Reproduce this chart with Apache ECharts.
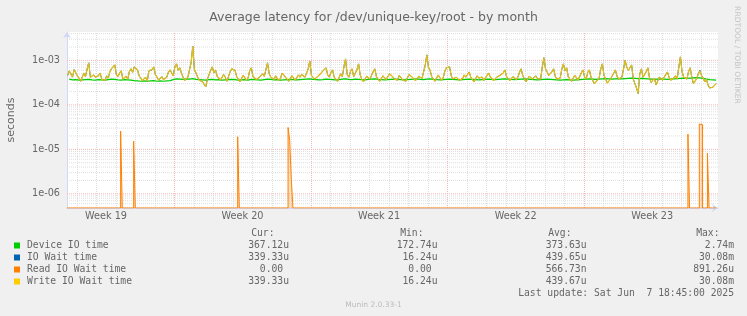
<!DOCTYPE html>
<html><head><meta charset="utf-8">
<script src="https://cdn.jsdelivr.net/npm/echarts@6/dist/echarts.min.js"></script>
<style>html,body{margin:0;padding:0;background:#f0f0f0}#c{width:747px;height:316px}</style>
</head><body><div id="c"></div>
<script>
// ---- data ----
const HOUR = 3600000, DAY = 24 * HOUR;
const startTime = Date.UTC(2025, 4, 5, 12, 0, 0);
const endTime = startTime + 801 * HOUR;
const lastUpdate = Date.UTC(2025, 5, 7, 18, 45, 0);

const seriesNames = ['Device IO time', 'IO Wait time', 'Read IO Wait time', 'Write IO Wait time'];
const seriesColors = ['#00cc00', '#0066b3', '#ff8000', '#ffcc00'];

// device IO time, microseconds, 4-hour samples ending at last update
const deviceIoUs = [
380,365,370,360,365,370,375,365,360,370,
365,360,370,380,375,365,360,370,365,360,
350,345,340,345,340,345,350,340,345,340,
345,350,370,385,380,375,385,380,390,375,
370,365,360,370,375,365,370,360,365,370,
375,370,360,365,370,360,375,370,365,360,
370,380,375,365,370,360,365,370,375,370,
365,370,375,380,385,375,370,365,370,380,
375,370,365,370,380,385,375,370,380,375,
370,365,375,380,385,375,370,365,370,375,
380,375,370,365,370,375,380,385,375,370,
380,385,375,370,365,370,375,380,375,370,
365,370,375,380,375,370,365,370,375,380,
375,370,375,380,385,380,375,370,375,380,
385,380,375,370,365,370,375,380,375,370,
365,360,365,370,365,360,365,370,375,380,
385,380,375,380,385,390,385,380,385,390,
385,390,395,400,395,390,395,390,385,380,
375,380,385,380,375,380,385,390,395,400,
395,400,405,410,405,395,380,370,365,360];

// IO wait time, microseconds, 2-hour samples ending at last update
const ioWaitUs = [
460,580,500,420,620,580,450,400,340,360,520,430,640,880,420,390,470,420,380,450,
520,380,360,350,450,400,560,650,700,790,480,430,520,580,380,420,440,380,560,650,
540,715,680,610,450,400,350,360,420,340,580,610,620,715,480,420,360,390,430,370,
390,420,540,610,640,450,720,835,600,680,520,420,350,380,420,460,900,2100,620,520,
420,360,340,330,300,255,380,420,600,715,520,610,440,400,360,380,480,420,340,360,
560,645,620,600,430,380,330,350,460,410,360,400,580,680,440,420,370,360,420,380,
500,440,620,880,500,420,390,370,450,390,350,400,520,470,420,380,340,360,450,410,
360,390,470,420,480,525,420,380,640,970,460,420,380,360,440,400,520,580,600,680,
470,420,540,610,420,380,340,360,500,430,720,1080,480,420,560,645,430,400,620,835,
470,380,330,350,440,400,380,420,560,645,430,380,340,360,450,410,370,400,500,550,
430,380,350,360,460,420,370,400,340,370,480,525,420,390,350,360,440,410,390,430,
780,1330,700,600,430,380,340,360,470,410,360,400,560,680,620,715,450,380,370,420,
440,360,340,390,470,420,480,550,420,380,330,350,450,400,380,420,350,380,460,520,
430,400,350,360,420,380,460,420,520,610,440,390,350,360,430,400,370,420,540,645,
460,380,330,350,440,400,380,420,450,390,360,380,700,1150,650,600,460,420,560,645,
440,380,370,400,620,835,590,680,430,380,340,360,460,410,360,390,520,610,430,380,
540,610,420,360,300,330,360,400,650,835,460,380,310,340,380,360,520,610,440,380,
360,420,640,1000,700,600,560,790,380,300,240,180,500,645,420,380,560,680,400,320,
350,400,280,300,420,380,360,420,480,550,420,360,330,400,450,380,700,1200,560,420,
450,380,560,680,420,300,330,390,500,600,460,420,330,380,280,240,230,250,270,300];

// write IO wait time, microseconds, 2-hour samples ending at last update
const writeWaitUs = [
460,580,500,420,620,580,450,400,340,360,520,430,640,880,420,390,470,420,380,450,
520,380,360,350,450,400,560,650,700,790,480,430,520,580,380,420,440,380,560,650,
540,715,680,610,450,400,350,360,420,340,580,610,620,715,480,420,360,390,430,370,
390,420,540,610,640,450,720,835,600,680,520,420,350,380,420,460,900,2100,620,520,
420,360,340,330,300,255,380,420,600,715,520,610,440,400,360,380,480,420,340,360,
560,645,620,600,430,380,330,350,460,410,360,400,580,680,440,420,370,360,420,380,
500,440,620,880,500,420,390,370,450,390,350,400,520,470,420,380,340,360,450,410,
360,390,470,420,480,525,420,380,640,970,460,420,380,360,440,400,520,580,600,680,
470,420,540,610,420,380,340,360,500,430,720,1080,480,420,560,645,430,400,620,835,
470,380,330,350,440,400,380,420,560,645,430,380,340,360,450,410,370,400,500,550,
430,380,350,360,460,420,370,400,340,370,480,525,420,390,350,360,440,410,390,430,
780,1330,700,600,430,380,340,360,470,410,360,400,560,680,620,715,450,380,370,420,
440,360,340,390,470,420,480,550,420,380,330,350,450,400,380,420,350,380,460,520,
430,400,350,360,420,380,460,420,520,610,440,390,350,360,430,400,370,420,540,645,
460,380,330,350,440,400,380,420,450,390,360,380,700,1150,650,600,460,420,560,645,
440,380,370,400,620,835,590,680,430,380,340,360,460,410,360,390,520,610,430,380,
540,610,420,360,300,330,360,400,650,835,460,380,310,340,380,360,520,610,440,380,
360,420,640,1000,700,600,560,790,380,300,240,180,500,645,420,380,560,680,400,320,
350,400,280,300,420,380,360,420,480,550,420,360,330,400,450,380,700,1200,560,420,
450,380,560,680,420,300,330,390,500,580,460,420,330,380,280,240,230,250,270,300];

// read wait: hours after startTime (value held until next entry), microseconds
const readHours = [0, 66, 68, 82, 84, 210, 212, 272, 274, 276, 278, 764, 766, 778, 780, 782, 788, 790, 798.75];
const readUs    = [0, 25.7, 0, 15.3, 0, 19.2, 0, 31, 16, 2.1, 0, 22, 0, 37, 36, 0, 8.1, 0, 0];

const weekLabelTimes = [Date.UTC(2025,4,7,12), Date.UTC(2025,4,14,12), Date.UTC(2025,4,21,12), Date.UTC(2025,4,28,12), Date.UTC(2025,5,4,12)];
const weekLabels = ['Week 19', 'Week 20', 'Week 21', 'Week 22', 'Week 23'];

const yMin = 4.8e-7, yMax = 4.35e-3;
const decadeExponents = [-7, -6, -5, -4, -3];
const gridMultipliers = [1, 2, 3, 4, 5, 6, 7, 8, 9];

const curValues = ['367.12u', '339.33u', '0.00', '339.33u'];
const minValues = ['172.74u', '16.24u', '0.00', '16.24u'];
const avgValues = ['373.63u', '439.65u', '566.73n', '439.67u'];
const maxValues = ['2.74m', '30.08m', '891.26u', '30.08m'];
const lastUpdateText = 'Last update: Sat Jun  7 18:45:00 2025';

// ---- build ----
const timesFor = (len, stepH) => Array.from({ length: len }, (_, i) => lastUpdate - (len - 1 - i) * stepH * HOUR);
const toSeries = (arr, stepH) => { const t = timesFor(arr.length, stepH); return arr.map((v, i) => [t[i], v * 1e-6]); };
const readData = readHours.map((h, i) => [startTime + h * HOUR, Math.max(readUs[i] * 1e-6, yMin)]);

const GRID = '#dedede', MGRID = '#f7b4b4';
const vLines = [];
for (let t = Date.UTC(2025, 4, 6); t < endTime; t += DAY) {
  const sunday = new Date(t).getUTCDay() === 0;
  vLines.push({ xAxis: t, lineStyle: { color: sunday ? MGRID : GRID, type: [1, 1], width: 1, opacity: 1 } });
}
const hLineSeries = [];
decadeExponents.forEach(e => gridMultipliers.forEach(m => {
  const v = m * Math.pow(10, e);
  const c = m === 1 ? MGRID : GRID;
  if (v > yMin && v < yMax) hLineSeries.push({
    type: 'line', silent: true, animation: false, showSymbol: false, symbol: 'none', z: m === 1 ? 2 : 1,
    color: c, data: [[startTime, v], [endTime, v]],
    lineStyle: { color: c, type: [1, 1], width: 1 }
  });
}));

const MONO = '"DejaVu Sans Mono", monospace';
const SANS = '"DejaVu Sans", sans-serif';
const FONT_COLOR = '#666';
const CW = 9.7 * 0.602;

const graphics = [];
const cols = [
  { head: 'Cur:', vals: curValues, headX: 274.5, x: 289 },
  { head: 'Min:', vals: minValues, headX: 423.5, x: 437.5 },
  { head: 'Avg:', vals: avgValues, headX: 571.5, x: 586.5 },
  { head: 'Max:', vals: maxValues, headX: 719.5, x: 734 }
];
cols.forEach(c => {
  graphics.push({ type: 'text', x: c.headX, y: 233.5, silent: true,
    style: { text: c.head, align: 'right', verticalAlign: 'middle', font: '9.7px ' + MONO, fill: FONT_COLOR } });
  c.vals.forEach((s, r) => {
    const hasUnit = /[a-zA-Z]$/.test(s);
    graphics.push({ type: 'text', x: c.x - (hasUnit ? 0 : CW), y: 245.5 + r * 12, silent: true,
      style: { text: s, align: 'right', verticalAlign: 'middle', font: '9.7px ' + MONO, fill: FONT_COLOR } });
  });
});
graphics.push({ type: 'text', x: 734, y: 293.5, silent: true,
  style: { text: lastUpdateText, align: 'right', verticalAlign: 'middle', font: '9.7px ' + MONO, fill: FONT_COLOR } });
graphics.push({ type: 'text', x: 373.5, y: 305, silent: true,
  style: { text: 'Munin 2.0.33-1', align: 'center', verticalAlign: 'middle', font: '7.5px ' + SANS, fill: '#bbbbbb' } });
graphics.push({ type: 'text', x: 737, y: 55, rotation: -Math.PI / 2, silent: true,
  style: { text: 'RRDTOOL / TOBI OETIKER', align: 'center', verticalAlign: 'middle', font: '7.6px ' + SANS, fill: '#c4c4c4' } });

const lineBase = { type: 'line', showSymbol: false, symbol: 'none', animation: false, silent: true };

const chart = echarts.init(document.getElementById('c'), null, { renderer: 'canvas' });
chart.setOption({
  backgroundColor: '#f0f0f0',
  animation: false,
  title: { text: 'Average latency for /dev/unique-key/root - by month', left: 'center', top: 6,
    textStyle: { fontFamily: SANS, fontSize: 12.5, fontWeight: 'normal', color: FONT_COLOR } },
  grid: { left: 67, right: 29, top: 32, bottom: 108, containLabel: false, outerBoundsMode: 'none',
    show: true, backgroundColor: '#ffffff', borderWidth: 0 },
  legend: { data: seriesNames.map((nm, i) => ({ name: nm, itemStyle: { color: seriesColors[i] } })),
    orient: 'vertical', left: 14, top: 239.5, padding: 0, itemWidth: 6, itemHeight: 6, itemGap: 0,
    icon: 'rect', selectedMode: false,
    textStyle: { fontFamily: MONO, fontSize: 9.7, color: FONT_COLOR, lineHeight: 12, padding: [0, 0, 0, 2] } },
  xAxis: { type: 'value', min: startTime, max: endTime,
    axisLine: { onZero: false, lineStyle: { color: '#cfd6f8' }, symbol: ['none', 'arrow'], symbolSize: [6, 6] },
    axisTick: { show: false }, splitLine: { show: false },
    axisLabel: { customValues: weekLabelTimes, margin: 3, fontFamily: SANS, fontSize: 9.7, color: FONT_COLOR,
      formatter: v => { const k = weekLabelTimes.indexOf(v); return k >= 0 ? weekLabels[k] : ''; } } },
  yAxis: { type: 'log', logBase: 10, min: yMin, max: yMax,
    name: 'seconds', nameLocation: 'middle', nameRotate: 90, nameGap: 50,
    nameTextStyle: { fontFamily: SANS, fontSize: 11, color: FONT_COLOR },
    axisLine: { show: true, lineStyle: { color: '#cfd6f8' }, symbol: ['none', 'arrow'], symbolSize: [6, 6] },
    axisTick: { show: false }, splitLine: { show: false }, minorSplitLine: { show: false },
    axisLabel: { margin: 7, fontFamily: SANS, fontSize: 9.7, color: FONT_COLOR, showMinLabel: false, showMaxLabel: false,
      formatter: v => { const l = Math.log10(v), e = Math.round(l);
        if (Math.abs(l - e) > 1e-6) return ''; return '1e' + (e < 0 ? '-' : '+') + String(Math.abs(e)).padStart(2, '0'); } } },
  graphic: graphics,
  series: hLineSeries.concat([
    { type: 'line', name: '_grid', data: [], z: 1, silent: true, color: GRID,
      markLine: { silent: true, symbol: ['none', 'none'], label: { show: false }, animation: false, z: 1,
        lineStyle: { color: GRID, type: [1, 1], width: 1 },
        emphasis: { disabled: true }, data: vLines } },
    Object.assign({}, lineBase, { name: seriesNames[0], color: seriesColors[0], z: 3, data: toSeries(deviceIoUs, 4), lineStyle: { width: 1.2 } }),
    Object.assign({}, lineBase, { name: seriesNames[1], color: seriesColors[1], z: 4, data: toSeries(ioWaitUs, 2), lineStyle: { width: 1 } }),
    Object.assign({}, lineBase, { name: seriesNames[2], color: seriesColors[2], z: 5, step: 'end', data: readData, lineStyle: { width: 1 },
      areaStyle: { color: 'rgba(255,128,0,0.35)' } }),
    Object.assign({}, lineBase, { name: seriesNames[3], color: seriesColors[3], z: 6, data: toSeries(writeWaitUs, 2),
      lineStyle: { width: 1.2, color: '#e8bf10' } })
  ])
});
</script></body></html>
